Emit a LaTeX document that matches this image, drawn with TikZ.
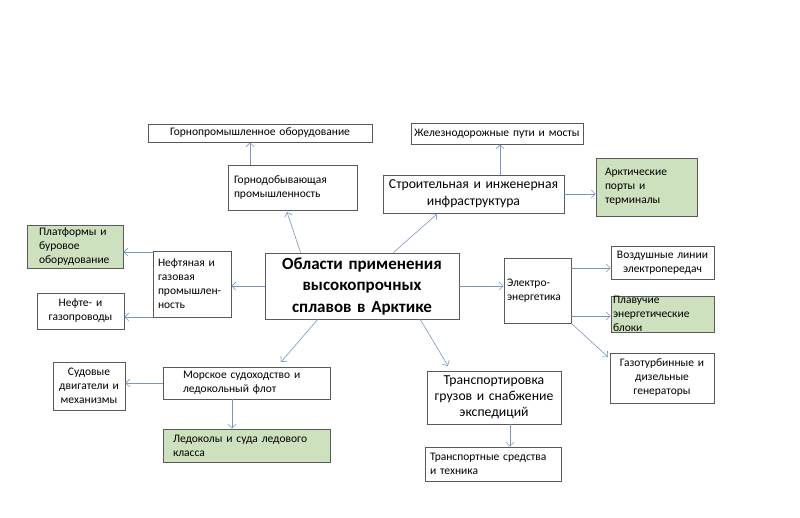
\documentclass[tikz,border=0pt]{standalone}
\usepackage{fontspec}
\setmainfont{Carlito}
\usetikzlibrary{arrows.meta}
\definecolor{ln}{RGB}{120,150,190}
\definecolor{gr}{RGB}{205,225,190}
\definecolor{bd}{RGB}{90,90,90}
\begin{document}
\begin{tikzpicture}[x=1pt,y=-1pt,
  box/.style={draw=bd,line width=0.8pt,inner sep=0pt,font=\fontsize{11.5}{14}\selectfont},
  green/.style={box,fill=gr},
  ar/.style={draw=ln,line width=0.6pt,-{Straight Barb[length=4pt,width=8pt]}}]
\useasboundingbox (0,0) rectangle (800,517);
\newcommand{\bx}[8]{\node[#1,minimum width=#4-#2,minimum height=#5-#3,text width=#4-#2-#7,align=#8] (#6) at ({(#2+#4)/2},{(#3+#5)/2})}
\bx{box}{148}{124}{372}{142}{gpo}{10}{center}{Горнопромышленное оборудование};
\bx{box}{228}{165}{357}{210}{gdp}{12}{left}{Горнодобывающая\\промышленность\\[-3pt]};
\bx{box}{411}{123}{583}{144}{zdp}{6}{center}{Железнодорожные пути и мосты};
\bx{box,font=\fontsize{13.7}{17}\selectfont}{383}{175}{564}{213}{sii}{2}{center}{Строительная и инженерная\\инфраструктура};
\bx{green}{596}{158}{697}{216}{apt}{18}{left}{Арктические\\порты и\\терминалы\\[2pt]};
\bx{green}{27}{225}{123}{268}{pbo}{24}{left}{Платформы и\\буровое\\оборудование};
\bx{box}{153}{251}{231}{317}{ngp}{10}{left}{Нефтяная и\\газовая\\промышлен-\\ность};
\bx{box}{37}{293}{124}{329}{ngz}{4}{center}{Нефте- и\\газопроводы};
\bx{box,font=\fontsize{17}{21.5}\bfseries\selectfont}{265}{253}{459}{319}{c}{2}{center}{Области применения\\высокопрочных\\сплавов в Арктике};
\bx{box}{504}{258}{571}{323}{ee}{6}{left}{Электро-\\энергетика\\[12pt]};
\bx{box}{611}{246}{714}{279}{vle}{4}{center}{Воздушные линии\\электропередач};
\bx{green}{611}{296}{714}{332}{peb}{4}{left}{Плавучие\\энергетические\\блоки};
\bx{box}{610}{353}{714}{403}{gdg}{4}{center}{Газотурбинные и\\дизельные\\генераторы};
\bx{box}{163}{367}{330}{399}{msl}{40}{left}{Морское судоходство и\\ледокольный флот};
\bx{box}{53}{362}{125}{410}{sdm}{2}{center}{Судовые\\двигатели и\\механизмы};
\bx{green}{163}{429}{330}{462}{lsk}{20}{left}{Ледоколы и суда ледового\\класса};
\bx{box,font=\fontsize{13.7}{16}\selectfont}{427}{371}{561}{424}{tgs}{2}{center}{Транспортировка\\грузов и снабжение\\экспедиций};
\bx{box}{425}{447}{561}{481}{tst}{10}{left}{Транспортные средства\\и техника};
\draw[ar] (c.north west)++(36,0) -- (287,212);
\draw[ar] (250,165) -- (gpo.south -| 250,0);
\draw[ar] (c.north east)++(-66,0) -- (437,214);
\draw[ar] (500,175) -- (zdp.south -| 500,0);
\draw[ar] (sii.east) -- (apt.west |- sii.east);
\draw[ar] (c.west) -- (ngp.east |- c.west);
\draw[ar] (153,252) -- (pbo.east |- 0,252);
\draw[ar] (153,317) -- (ngz.east |- 0,317);
\draw[ar] (c.east) -- (ee.west |- c.east);
\draw[ar] (571,268) -- (vle.west |- 0,268);
\draw[ar] (571,316) -- (peb.west |- 0,316);
\draw[ar] (ee.south east) -- (608,357);
\draw[ar] (318,319) -- (281,362);
\draw[ar] (420,319) -- (448,366);
\draw[ar] (msl.west |- 0,383) -- (sdm.east |- 0,383);
\draw[ar] (232,399) -- (lsk.north -| 232,0);
\draw[ar] (510,424) -- (tst.north -| 510,0);
\end{tikzpicture}
\end{document}
